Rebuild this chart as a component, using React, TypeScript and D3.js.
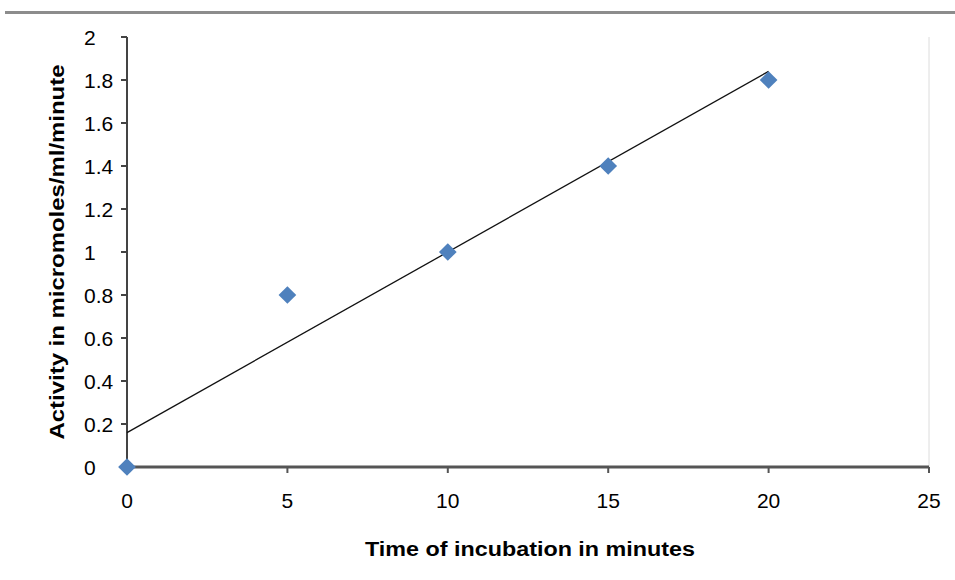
import React from 'react';
import * as d3 from 'd3';

// incubation time (min) and measured activity
const times = [0, 5, 10, 15, 20];
const activity = [0, 0.8, 1.0, 1.4, 1.8];
const xTicks = [0, 5, 10, 15, 20, 25];
const yTicks = [0, 0.2, 0.4, 0.6, 0.8, 1, 1.2, 1.4, 1.6, 1.8, 2];

const width = 955;
const height = 580;
const margin = { top: 37, right: 26, bottom: 113, left: 127 };

const App = () => {
  const x = d3.scaleLinear().domain([0, 25]).range([margin.left, width - margin.right]);
  const y = d3.scaleLinear().domain([0, 2]).range([height - margin.bottom, margin.top]);

  // least squares trend line
  const xm = d3.mean(times) as number;
  const ym = d3.mean(activity) as number;
  const slope =
    d3.sum(times, (t, i) => (t - xm) * (activity[i] - ym)) / d3.sum(times, t => (t - xm) ** 2);
  const icpt = ym - slope * xm;
  const trend = d3.line<number>().x(t => x(t)).y(t => y(icpt + slope * t));

  const diamond = d3.symbol().type(d3.symbolDiamond2).size(200)();
  const font = '"Liberation Sans", Arial, sans-serif';

  return (
    <svg width={width} height={height} style={{ position: 'absolute', left: 0, top: 0, background: '#fff' }}>
      <rect x={5} y={11} width={950} height={3} fill="#8c8c8c" />
      {/* right plot border */}
      <line x1={x(25)} x2={x(25)} y1={y(2)} y2={y(0)} stroke="#dcdcdc" strokeWidth={1} />

      {/* y axis */}
      <line x1={x(0)} x2={x(0)} y1={y(2)} y2={y(0)} stroke="#444" strokeWidth={2} />
      {yTicks.map(t => (
        <g key={t}>
          <line x1={x(0) - 6} x2={x(0)} y1={y(t)} y2={y(t)} stroke="#444" strokeWidth={2} />
          <text x={84} y={y(t)} dy="0.36em" fontFamily={font} fontSize={21} fill="#000">
            {t}
          </text>
        </g>
      ))}

      {/* x axis */}
      <line x1={x(0)} x2={x(25)} y1={y(0)} y2={y(0)} stroke="#555" strokeWidth={3} />
      {xTicks.map(t => (
        <g key={t}>
          <line x1={x(t)} x2={x(t)} y1={y(0)} y2={y(0) + 6} stroke="#555" strokeWidth={2} />
          <text x={x(t)} y={y(0) + 41} textAnchor="middle" fontFamily={font} fontSize={21} fill="#000">
            {t}
          </text>
        </g>
      ))}

      <path d={trend([0, 20]) as string} fill="none" stroke="#111" strokeWidth={1.3} />

      {times.map((t, i) => (
        <path key={t} d={diamond as string} transform={`translate(${x(t)},${y(activity[i])})`} fill="#4f81bd" />
      ))}

      <text
        x={530}
        y={556}
        textAnchor="middle"
        fontFamily={font}
        fontSize={20}
        fontWeight="bold"
        textLength={330}
        lengthAdjust="spacingAndGlyphs"
        fill="#000"
      >
        Time of incubation in minutes
      </text>
      <text
        transform="translate(64,252) rotate(-90)"
        textAnchor="middle"
        fontFamily={font}
        fontSize={20}
        fontWeight="bold"
        textLength={375}
        lengthAdjust="spacingAndGlyphs"
        fill="#000"
      >
        Activity in micromoles/ml/minute
      </text>
    </svg>
  );
};

export default App;
